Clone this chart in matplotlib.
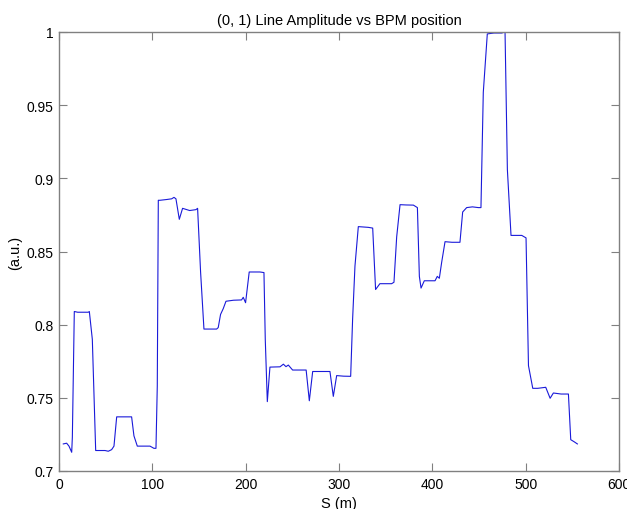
import matplotlib
matplotlib.use("Agg")
import matplotlib.pyplot as plt

s_pos = [4.6, 8.2, 10.7, 13.6, 14.3, 16.4, 20, 25, 31.4, 32.5, 35.7, 39.3, 45, 49.3, 52.8, 56.4, 58.9,
         61.8, 70, 77.8, 80.3, 83.9, 90, 97.5, 101.7, 103.9, 105.3, 106.4, 108.2, 115, 120.7, 123.2,
         125.3, 128.9, 132.4, 140, 146.7, 148.5, 151.7, 155.3, 162, 168.9, 170.6, 173.1, 176, 178.9,
         187, 195.6, 197.4, 199.9, 203.8, 215.3, 219.6, 221, 223.2, 226, 236.8, 240.4, 243.2, 245.7,
         250.3, 258, 264.8, 268.2, 271.8, 280, 290.3, 293.9, 297.5, 305, 312.5, 314.6, 317.1, 320.7,
         331.4, 336.1, 339.2, 343.8, 350, 356.4, 358.9, 361.8, 365.4, 372, 379.7, 384, 386.1, 387.9,
         391.4, 397, 402.9, 405.3, 407.5, 410, 413.6, 421, 429.6, 432.5, 436.8, 443, 449.3, 452.1,
         454.6, 458.9, 466, 474.3, 477.9, 480.4, 484.3, 490, 495.8, 500.4, 503, 507.6, 513, 519,
         521.5, 526.2, 529.7, 538, 545.8, 548.3, 551.9, 555.4]

amplitude = [0.7185, 0.719, 0.717, 0.7128, 0.723, 0.809, 0.8085, 0.8085, 0.8085, 0.809, 0.790, 0.714,
             0.714, 0.714, 0.7135, 0.7146, 0.717, 0.737, 0.737, 0.737, 0.724, 0.717, 0.717, 0.717,
             0.7155, 0.7155, 0.758, 0.885, 0.885, 0.8855, 0.886, 0.887, 0.886, 0.872, 0.8795, 0.878,
             0.8786, 0.8795, 0.836, 0.797, 0.797, 0.797, 0.798, 0.807, 0.811, 0.816, 0.8167, 0.8169,
             0.8187, 0.815, 0.836, 0.836, 0.8356, 0.79, 0.7474, 0.771, 0.7712, 0.773, 0.7713, 0.7724,
             0.769, 0.769, 0.769, 0.748, 0.768, 0.768, 0.768, 0.751, 0.7652, 0.7648, 0.7647, 0.804,
             0.840, 0.867, 0.8665, 0.866, 0.824, 0.828, 0.828, 0.828, 0.829, 0.860, 0.882, 0.8818,
             0.8817, 0.880, 0.833, 0.825, 0.830, 0.830, 0.830, 0.833, 0.8317, 0.8426, 0.8567, 0.8563,
             0.8563, 0.877, 0.880, 0.8805, 0.880, 0.880, 0.9588, 0.9987, 0.9993, 0.9993, 1.0, 0.906,
             0.861, 0.861, 0.861, 0.8593, 0.772, 0.7565, 0.7565, 0.757, 0.7572, 0.7497, 0.7533, 0.7526,
             0.7526, 0.7214, 0.720, 0.7185]

x_ticks = [0, 100, 200, 300, 400, 500, 600]
y_ticks = [0.7, 0.75, 0.8, 0.85, 0.9, 0.95, 1.0]
y_tick_labels = ["0.7", "0.75", "0.8", "0.85", "0.9", "0.95", "1"]

plt.rcParams['font.family'] = ['Liberation Sans', 'DejaVu Sans']
plt.rcParams['font.size'] = 10

fig = plt.figure(figsize=(6.27, 5.10), dpi=100)
ax = fig.add_axes([59/627, 1 - 472/510, (619 - 59)/627, (472 - 33)/510])
ax.plot(s_pos, amplitude, color=(0.1, 0.1, 0.85), linewidth=0.8)

ax.set_xlim(0, 600)
ax.set_ylim(0.7, 1.0)
ax.set_xticks(x_ticks)
ax.set_yticks(y_ticks)
ax.set_yticklabels(y_tick_labels)
ax.tick_params(direction='in', top=True, right=True, length=6, width=0.8,
               color='#808080', labelsize=10, pad=4)
for sp in ax.spines.values():
    sp.set_color('#808080')
    sp.set_linewidth(1.0)

ax.set_title("(0, 1) Line Amplitude vs BPM position", fontsize=10.5, pad=6)
ax.set_xlabel("S (m)", fontsize=10.5, labelpad=4)
ax.set_ylabel("(a.u.)", fontsize=10.5, labelpad=3)

fig.savefig("out.png", dpi=100)
